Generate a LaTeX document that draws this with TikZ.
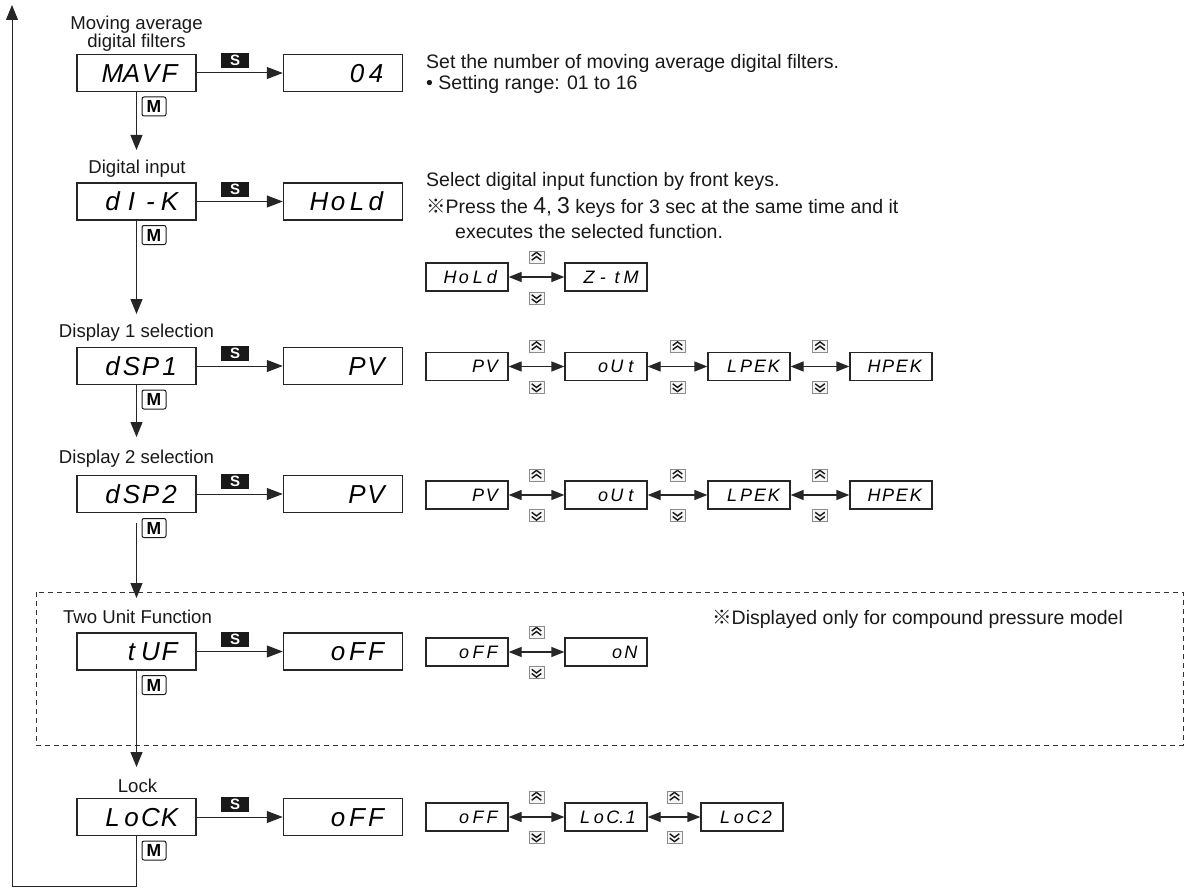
\documentclass[tikz,border=0pt]{standalone}
\usepackage{fontspec}
\setmainfont{Liberation Sans}
\newfontfamily\segfont{Liberation Sans}
\newfontfamily\cjkfont{Noto Sans CJK JP}
\usetikzlibrary{arrows.meta}
\newlength\segw
\def\segchars#1{\ifx#1\relax\else\ifx#1.\makebox[4pt][c]{.}\else\makebox[\segw]{#1}\fi\expandafter\segchars\fi}
\newcommand\segM[1]{{\segfont\itshape\fontsize{26}{26}\selectfont\setlength\segw{19pt}\makebox[85pt][r]{\segchars#1\relax}}}
\newcommand\segS[1]{{\segfont\itshape\fontsize{18}{18}\selectfont\setlength\segw{14pt}\makebox[64pt][r]{\segchars#1\relax}}}
\newcommand\refmark{{\cjkfont ※}}
\tikzset{
  mainbox/.style={draw=black!85, line width=1.5pt, minimum width=119pt, minimum height=37pt, inner sep=0pt, text height=18.7pt, text depth=0pt},
  smallbox/.style={draw=black!85, line width=1.2pt, minimum width=82pt, minimum height=28pt, inner sep=0pt, text height=12.9pt, text depth=0pt},
  lbl/.style={font=\fontsize{18.6}{22}\selectfont, text=black!90, inner sep=0pt, anchor=base},
  rtxt/.style={font=\fontsize{19.5}{23}\selectfont, text=black!90, inner sep=0pt, anchor=base west},
  skey/.style={fill=black!90, text=white, font=\fontsize{15}{15}\selectfont\bfseries, minimum width=28pt, minimum height=15pt, inner sep=0pt},
  mkey/.style={draw=black!90, fill=white, line width=1pt, rounded corners=2pt, font=\fontsize{17.5}{17.5}\selectfont\bfseries, minimum width=24pt, minimum height=19pt, inner sep=0pt},
  varrow/.style={draw=black!85, line width=1pt, -{Triangle[length=15pt,width=12pt]}},
  sarrow/.style={draw=black!85, line width=1pt, -{Triangle[length=16pt,width=12pt]}},
  dblarrow/.style={draw=black!85, line width=1.2pt, {Triangle[length=13pt,width=10pt]}-{Triangle[length=13pt,width=10pt]}},
  ukey/.style={draw=black!45, fill=black!4, line width=0.5pt, minimum width=15pt, minimum height=12pt, inner sep=0pt,
    path picture={
      \draw[line width=1.4pt, black!90] ([shift={(-4.8pt,1pt)}]path picture bounding box.center) -- ++(4.8pt,3.6pt) -- ++(4.8pt,-3.6pt);
      \draw[line width=1.4pt, black!90] ([shift={(-4.8pt,-3.2pt)}]path picture bounding box.center) -- ++(4.8pt,3.6pt) -- ++(4.8pt,-3.6pt);}},
  dkey/.style={draw=black!45, fill=black!4, line width=0.5pt, minimum width=15pt, minimum height=12pt, inner sep=0pt,
    path picture={
      \draw[line width=1.4pt, black!90] ([shift={(-4.8pt,-1pt)}]path picture bounding box.center) -- ++(4.8pt,-3.6pt) -- ++(4.8pt,3.6pt);
      \draw[line width=1.4pt, black!90] ([shift={(-4.8pt,3.2pt)}]path picture bounding box.center) -- ++(4.8pt,-3.6pt) -- ++(4.8pt,3.6pt);}}
}
\begin{document}
\begin{tikzpicture}[x=1pt,y=-1pt]
\useasboundingbox[fill=white] (0,0) rectangle (1188,888);

% dashed region
\draw[black!80, line width=1pt, dash pattern=on 5pt off 4pt] (36,592) rectangle (1183,745);

% labels
\node[lbl] (lab1a) at (136.5,30) {Moving average};
\node[lbl] (lab1b) at (136.5,48) {digital filters};
\node[lbl] (lab2) at (137,173) {Digital input};
\node[lbl] (lab3) at (136.5,337) {Display 1 selection};
\node[lbl] (lab4) at (136.5,463) {Display 2 selection};
\node[lbl] (lab5) at (137.5,623) {Two Unit Function};
\node[lbl] (lab6) at (137.5,792) {Lock};

% main boxes
\node[mainbox] (l1) at (136.5,73) {\segM{MAVF}};
\node[mainbox] (r1) at (343,73) {\segM{04}};
\node[mainbox] (l2) at (136.5,201.5) {\segM{dI-K}};
\node[mainbox] (r2) at (343,201.5) {\segM{HoLd}};
\node[mainbox] (l3) at (136.5,366) {\segM{dSP1}};
\node[mainbox] (r3) at (343,366) {\segM{PV}};
\node[mainbox] (l4) at (136.5,494) {\segM{dSP2}};
\node[mainbox] (r4) at (343,494) {\segM{PV}};
\node[mainbox] (l5) at (136.5,651.5) {\segM{tUF}};
\node[mainbox] (r5) at (343,651.5) {\segM{oFF}};
\node[mainbox] (l6) at (136.5,817) {\segM{LoCK}};
\node[mainbox] (r6) at (343,817) {\segM{oFF}};

% S keys and arrows
\foreach \i/\y in {1/73,2/201.5,3/366,4/494,5/651.5,6/817}{
  \node[skey] (s\i) at (235,\y-12.5) {S};
  \draw[sarrow] (l\i.east) -- (r\i.west);
}

% arrow tip coordinates
\coordinate (t2) at (136.5,150);
\coordinate (t3) at (136.5,314);
\coordinate (t4) at (136.5,437);
\coordinate (t5) at (136.5,598);
\coordinate (t6) at (136.5,767);
\coordinate (c1) at (136.5,886);
\coordinate (c2) at (12,886);
\coordinate (c3) at (12,5);

\draw[varrow] (l1.south) -- (t2);
\draw[varrow] (l2.south) -- (t3);
\draw[varrow] (l3.south) -- (t4);
\draw[varrow] ([yshift=-10pt]l4.south) -- (t5);
\draw[varrow] (l5.south) -- (t6);
\draw[varrow] (l6.south) -- (c1) -- (c2) -- (c3);

% M keys
\foreach \i/\y in {1/73,2/201.5,3/366,5/651.5,6/817}{
  \node[mkey] (m\i) at (154,\y+33.5) {M};
}
\node[mkey] (m4) at (154,528) {M};

% right texts
\node[rtxt] (txt1) at (426,69) {Set the number of moving average digital filters.};
\node[rtxt] (txt2) at (426,90) {\textbullet\ Setting range: 01 to 16};
\node[rtxt] (txt3) at (426,186) {Select digital input function by front keys.};
\node[rtxt] (txt4) at (426,213) {\refmark Press the {\fontsize{23}{23}\selectfont 4}, {\fontsize{23}{23}\selectfont 3} keys for 3 sec at the same time and it};
\node[rtxt] (txt5) at (455,238) {executes the selected function.};
\node[rtxt] (txt6) at (712,624) {\refmark Displayed only for compound pressure model};

% row 2 chain
\node[smallbox] (p21) at (467,277) {\segS{HoLd}};
\node[smallbox] (p22) at (606,277) {\segS{Z-tM}};
\draw[dblarrow] (p21.east) -- (p22.west);
\node[ukey] (u21) at (536.5,257) {};
\node[dkey] (d21) at (536.5,298) {};

% rows 3 and 4 chains
\foreach \r/\y in {3/366.5,4/495}{
  \node[smallbox] (p\r1) at (467,\y) {\segS{PV}};
  \node[smallbox] (p\r2) at (606,\y) {\segS{oUt}};
  \node[smallbox] (p\r3) at (749,\y) {\segS{LPEK}};
  \node[smallbox] (p\r4) at (891,\y) {\segS{HPEK}};
  \draw[dblarrow] (p\r1.east) -- (p\r2.west);
  \draw[dblarrow] (p\r2.east) -- (p\r3.west);
  \draw[dblarrow] (p\r3.east) -- (p\r4.west);
  \node[ukey] (u\r1) at (536.5,\y-20) {};
  \node[dkey] (d\r1) at (536.5,\y+20.5) {};
  \node[ukey] (u\r2) at (677.5,\y-20) {};
  \node[dkey] (d\r2) at (677.5,\y+20.5) {};
  \node[ukey] (u\r3) at (820,\y-20) {};
  \node[dkey] (d\r3) at (820,\y+20.5) {};
}

% row 5 chain
\node[smallbox] (p51) at (467,652) {\segS{oFF}};
\node[smallbox] (p52) at (606,652) {\segS{oN}};
\draw[dblarrow] (p51.east) -- (p52.west);
\node[ukey] (u51) at (536.5,632) {};
\node[dkey] (d51) at (536.5,672.5) {};

% row 6 chain
\node[smallbox] (p61) at (467,817) {\segS{oFF}};
\node[smallbox] (p62) at (606,817) {\segS{LoC.1}};
\node[smallbox] (p63) at (742,817) {\segS{LoC2}};
\draw[dblarrow] (p61.east) -- (p62.west);
\draw[dblarrow] (p62.east) -- (p63.west);
\node[ukey] (u61) at (536.5,797) {};
\node[dkey] (d61) at (536.5,837) {};
\node[ukey] (u62) at (674.5,797) {};
\node[dkey] (d62) at (674.5,837) {};
\end{tikzpicture}
\end{document}
